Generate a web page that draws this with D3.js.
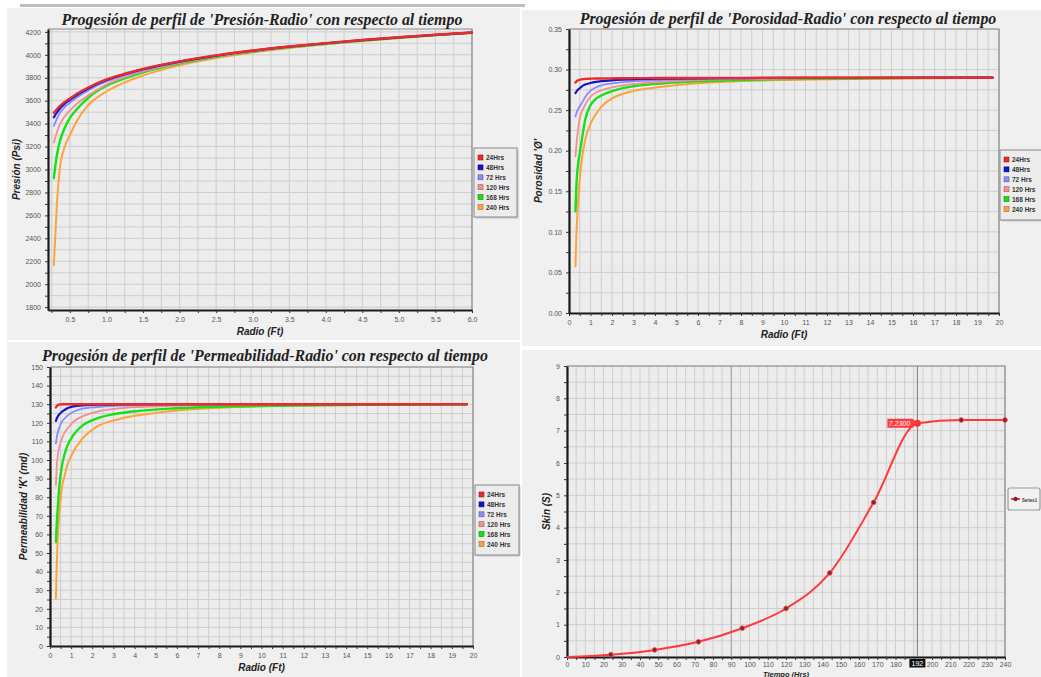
<!DOCTYPE html>
<html>
<head>
<meta charset="utf-8">
<script src="https://cdn.jsdelivr.net/npm/d3@7"></script>
<style>
  body { margin: 0; background: #ffffff; }
  svg { display: block; }
  .tick text { font-family: "Liberation Sans", Arial, sans-serif; font-size: 7px; fill: #555; }
  .ax-title { font-family: "Liberation Sans", Arial, sans-serif; font-size: 10px; font-weight: bold; font-style: italic; fill: #222; }
  .ch-title { font-family: "Liberation Serif", "Times New Roman", serif; font-size: 15.9px; font-weight: bold; font-style: italic; fill: #222; }
  .lg-text { font-family: "Liberation Sans", Arial, sans-serif; font-size: 6.5px; font-weight: bold; fill: #333; }
</style>
</head>
<body>
<svg id="chart" width="1041" height="677"></svg>
<script>
// ---- data ----
var seriesNames = ["24Hrs", "48Hrs", "72 Hrs", "120 Hrs", "168 Hrs", "240 Hrs"];

var pressRadius = [0.28, 0.32, 0.36, 0.42, 0.5, 0.6, 0.75, 1.0, 1.25, 1.5, 2.0, 2.5, 3.0, 3.5, 4.0, 4.5, 5.0, 5.5, 6.0];
var press24  = [3495, 3525, 3552, 3585, 3620, 3662, 3715, 3785, 3835, 3877, 3943, 3995, 4037, 4072, 4102, 4129, 4153, 4175, 4195];
var press48  = [3455, 3495, 3530, 3568, 3607, 3652, 3707, 3780, 3831, 3874, 3941, 3993, 4036, 4071, 4101, 4128, 4152, 4174, 4194];
var press72  = [3380, 3440, 3490, 3538, 3582, 3630, 3690, 3767, 3822, 3867, 3937, 3990, 4034, 4070, 4100, 4127, 4151, 4174, 4194];
var press120 = [3235, 3320, 3390, 3455, 3515, 3575, 3645, 3740, 3805, 3855, 3930, 3986, 4031, 4068, 4099, 4126, 4150, 4173, 4193];
var press168 = [2925, 3120, 3240, 3350, 3450, 3530, 3625, 3730, 3795, 3848, 3925, 3983, 4028, 4065, 4096, 4124, 4149, 4172, 4192];
var press240 = [2167, 2680, 3000, 3180, 3300, 3430, 3560, 3680, 3760, 3820, 3908, 3972, 4021, 4060, 4092, 4121, 4147, 4171, 4191];

var poroRadius = [0.3, 0.35, 0.4, 0.5, 0.6, 0.75, 1.0, 1.25, 1.5, 2.0, 2.5, 3.0, 3.5, 4.5, 6.0, 8.0, 10.0, 13.0, 16.0, 19.7];
var poro24  = [0.284, 0.2855, 0.2865, 0.2875, 0.288, 0.2885, 0.2888, 0.289, 0.289, 0.2892, 0.2893, 0.2894, 0.2895, 0.2896, 0.2897, 0.2898, 0.2899, 0.29, 0.29, 0.29];
var poro48  = [0.2711, 0.273, 0.2748, 0.277, 0.2792, 0.2815, 0.2835, 0.2848, 0.2857, 0.2868, 0.2875, 0.288, 0.2884, 0.2888, 0.2892, 0.2895, 0.2897, 0.2899, 0.29, 0.29];
var poro72  = [0.2423, 0.2465, 0.25, 0.2545, 0.259, 0.266, 0.274, 0.278, 0.2805, 0.283, 0.2845, 0.2855, 0.2862, 0.2872, 0.288, 0.2888, 0.2893, 0.2897, 0.2899, 0.29];
var poro120 = [0.193, 0.209, 0.2215, 0.24, 0.248, 0.2565, 0.2665, 0.2715, 0.2745, 0.278, 0.2805, 0.282, 0.2833, 0.285, 0.287, 0.2883, 0.289, 0.2895, 0.2898, 0.29];
var poro168 = [0.1252, 0.16, 0.178, 0.197, 0.214, 0.238, 0.256, 0.264, 0.268, 0.2735, 0.2772, 0.2795, 0.2812, 0.2834, 0.2855, 0.2872, 0.2882, 0.289, 0.2895, 0.29];
var poro240 = [0.0575, 0.10, 0.127, 0.165, 0.19, 0.213, 0.233, 0.245, 0.254, 0.2645, 0.270, 0.2735, 0.276, 0.2795, 0.2832, 0.2858, 0.2872, 0.2885, 0.2892, 0.2898];

var permRadius = [0.28, 0.32, 0.36, 0.44, 0.55, 0.7, 0.8, 1.1, 1.5, 2.2, 3.2, 4.2, 5.8, 7.5, 9.0, 12.0, 15.0, 19.7];
var perm24  = [128.2, 129.0, 129.5, 129.8, 130, 130, 130, 130, 130, 130, 130, 130, 130, 130, 130, 130, 130, 130];
var perm48  = [121.0, 122.3, 123.3, 124.6, 125.8, 127.0, 127.7, 128.8, 129.4, 129.7, 129.9, 130, 130, 130, 130, 130, 130, 130];
var perm72  = [108.9, 112.0, 114.5, 117.5, 120.3, 122.5, 123.6, 125.9, 127.5, 128.5, 129.2, 129.5, 129.8, 129.9, 130, 130, 130, 130];
var perm120 = [86.5, 96.5, 101.5, 107, 111, 115, 116.5, 120.5, 123.3, 125.9, 127.7, 128.5, 129.1, 129.5, 129.7, 129.9, 130, 130];
var perm168 = [56.0, 66, 73, 85.6, 96, 103.5, 107, 113.3, 118.2, 122.3, 125, 126.4, 127.7, 128.5, 128.9, 129.4, 129.7, 130];
var perm240 = [25.6, 44, 57, 71, 84, 92, 96.5, 104.4, 111, 117.8, 121.8, 124.1, 126.4, 127.8, 128.5, 129.2, 129.6, 130];

var skinTime  = [0, 24, 48, 72, 96, 120, 144, 168, 192, 216, 240];
var skinValue = [0, 0.07, 0.22, 0.47, 0.89, 1.5, 2.6, 4.78, 7.23, 7.33, 7.33];
var skinMarkTime = 192;
var skinMarkLabel = "7.2300";

// ---- styles ----
var SERIES_COLORS = ["#ec2a2a", "#1414c8", "#8a8aff", "#f29090", "#16e016", "#ffa23e"];
var SERIES_WIDTHS = [2.4, 2.2, 1.8, 1.8, 2.4, 2];
var PLOT_BG = "#ececec";
var GRID = "#cdcdcd";

var svg = d3.select("#chart");

// panel backgrounds (screenshot look)
[[7, 8, 513, 332], [522, 10, 519, 336], [7, 342, 513, 335], [522, 350, 519, 327]].forEach(function (r) {
    svg.append("rect").attr("x", r[0]).attr("y", r[1]).attr("width", r[2]).attr("height", r[3]).attr("fill", "#f0f0f0");
});
svg.append("rect").attr("x", 20).attr("y", 4).attr("width", 505).attr("height", 3).attr("fill", "#bdbdbd");

function drawFrame(g, x, y, xGrid, yGrid, xLabelFn, yLabelFn) {
    var x0 = x.range()[0], x1 = x.range()[1];
    var y0 = y.range()[0], y1 = y.range()[1];
    g.append("rect").attr("x", x0).attr("y", y1).attr("width", x1 - x0).attr("height", y0 - y1)
        .attr("fill", PLOT_BG);
    g.append("g").selectAll("line").data(xGrid).enter().append("line")
        .attr("x1", function (d) { return x(d); }).attr("x2", function (d) { return x(d); })
        .attr("y1", y1).attr("y2", y0).attr("stroke", GRID).attr("stroke-width", 1);
    g.append("g").selectAll("line").data(yGrid).enter().append("line")
        .attr("y1", function (d) { return y(d); }).attr("y2", function (d) { return y(d); })
        .attr("x1", x0).attr("x2", x1).attr("stroke", GRID).attr("stroke-width", 1);
    // top & right border
    g.append("path").attr("d", "M" + x0 + "," + y1 + "H" + x1 + "V" + y0)
        .attr("fill", "none").attr("stroke", "#8a8a8a").attr("stroke-width", 1.2);

    var xAxis = g.append("g").attr("transform", "translate(0," + y0 + ")")
        .call(d3.axisBottom(x).tickValues(xGrid).tickSize(3).tickSizeOuter(0).tickFormat(xLabelFn));
    var yAxis = g.append("g").attr("transform", "translate(" + x0 + ",0)")
        .call(d3.axisLeft(y).tickValues(yGrid).tickSize(3).tickSizeOuter(0).tickFormat(yLabelFn));
    [xAxis, yAxis].forEach(function (a) {
        a.select(".domain").attr("stroke", "#1a1a1a").attr("stroke-width", 2.2);
        a.selectAll(".tick line").attr("stroke", "#333");
    });
    xAxis.selectAll(".tick text").attr("dy", "0.9em");
    yAxis.selectAll(".tick text").attr("dx", "-1px");
    return { xAxis: xAxis, yAxis: yAxis };
}

function isMultiple(v, step) {
    return Math.abs(v / step - Math.round(v / step)) < 1e-6;
}

function drawLegend(g, lx, ly, w, h) {
    g.append("rect").attr("x", lx + 1.5).attr("y", ly + 1.5).attr("width", w).attr("height", h).attr("fill", "#c8c8c8");
    g.append("rect").attr("x", lx).attr("y", ly).attr("width", w).attr("height", h)
        .attr("fill", "#ececec").attr("stroke", "#9a9a9a").attr("stroke-width", 1.2);
    seriesNames.forEach(function (name, i) {
        var yy = ly + 10 + i * 9.9;
        g.append("rect").attr("x", lx + 4).attr("y", yy - 3).attr("width", 5).attr("height", 5)
            .attr("fill", SERIES_COLORS[i]).attr("stroke", d3.color(SERIES_COLORS[i]).darker(1.2)).attr("stroke-width", 0.6);
        g.append("text").attr("class", "lg-text").attr("x", lx + 12).attr("y", yy + 2).text(name);
    });
}

function drawProfile(cfg) {
    var g = svg.append("g");
    var x = d3.scaleLinear().domain(cfg.xDomain).range([cfg.left, cfg.right]);
    var y = d3.scaleLinear().domain(cfg.yDomain).range([cfg.bottom, cfg.top]);
    drawFrame(g, x, y, cfg.xGrid, cfg.yGrid,
        function (d) { return isMultiple(d, cfg.xLabelStep) ? cfg.xFmt(d) : ""; },
        function (d) { return isMultiple(d, cfg.yLabelStep) ? cfg.yFmt(d) : ""; });

    var line = d3.line().curve(d3.curveMonotoneX)
        .x(function (d) { return x(d[0]); })
        .y(function (d) { return y(d[1]); });
    // draw the latest time first so 24 Hrs sits on top
    for (var i = cfg.series.length - 1; i >= 0; i--) {
        var pts = cfg.radius.map(function (r, k) { return [r, cfg.series[i][k]]; });
        g.append("path").datum(pts).attr("d", line).attr("fill", "none")
            .attr("stroke", SERIES_COLORS[i]).attr("stroke-width", SERIES_WIDTHS[i])
            .attr("stroke-linejoin", "round").attr("stroke-linecap", "round");
    }

    g.append("text").attr("class", "ch-title").attr("x", cfg.titleX).attr("y", cfg.titleY)
        .attr("text-anchor", "middle").text(cfg.title);
    g.append("text").attr("class", "ax-title").attr("x", (cfg.left + cfg.right) / 2).attr("y", cfg.bottom + 25)
        .attr("text-anchor", "middle").text("Radio (Ft)");
    g.append("text").attr("class", "ax-title")
        .attr("transform", "translate(" + cfg.yTitleX + "," + (cfg.top + cfg.bottom) / 2 + ") rotate(-90)")
        .attr("text-anchor", "middle").text(cfg.yTitle);
    drawLegend(g, cfg.legend[0], cfg.legend[1], cfg.legend[2], cfg.legend[3]);
}

drawProfile({
    left: 48, right: 472, top: 29, bottom: 310,
    xDomain: [0.2, 6.0], yDomain: [1775, 4225],
    xGrid: d3.range(0.25, 6.001, 0.25), yGrid: d3.range(1800, 4201, 100),
    xLabelStep: 0.5, yLabelStep: 200,
    xFmt: d3.format(".1f"), yFmt: d3.format("d"),
    radius: pressRadius,
    series: [press24, press48, press72, press120, press168, press240],
    title: "Progesión de perfil de 'Presión-Radio' con respecto al tiempo",
    titleX: 262, titleY: 25,
    yTitle: "Presión (Psi)", yTitleX: 20,
    legend: [474, 148, 43, 69]
});

drawProfile({
    left: 569, right: 999, top: 29, bottom: 313,
    xDomain: [0, 20], yDomain: [0, 0.35],
    xGrid: d3.range(0, 20.001, 0.5), yGrid: d3.range(0, 0.3501, 0.025),
    xLabelStep: 1, yLabelStep: 0.05,
    xFmt: d3.format("d"), yFmt: d3.format(".2f"),
    radius: poroRadius,
    series: [poro24, poro48, poro72, poro120, poro168, poro240],
    title: "Progesión de perfil de 'Porosidad-Radio' con respecto al tiempo",
    titleX: 788, titleY: 24,
    yTitle: "Porosidad 'Ø'", yTitleX: 542,
    legend: [1000, 150, 45, 70]
});

drawProfile({
    left: 50, right: 473, top: 367, bottom: 646,
    xDomain: [0, 20], yDomain: [0, 150],
    xGrid: d3.range(0, 20.001, 0.5), yGrid: d3.range(0, 150.001, 5),
    xLabelStep: 1, yLabelStep: 10,
    xFmt: d3.format("d"), yFmt: d3.format("d"),
    radius: permRadius,
    series: [perm24, perm48, perm72, perm120, perm168, perm240],
    title: "Progesión de perfil de 'Permeabilidad-Radio' con respecto al tiempo",
    titleX: 265, titleY: 361,
    yTitle: "Permeabilidad 'K' (md)", yTitleX: 27,
    legend: [475, 485, 44, 70]
});

// ---- skin vs time ----
(function () {
    var g = svg.append("g");
    var x = d3.scaleLinear().domain([0, 240]).range([567, 1005]);
    var y = d3.scaleLinear().domain([0, 9]).range([657, 366]);
    var axes = drawFrame(g, x, y, d3.range(0, 240.001, 5), d3.range(0, 9.001, 0.5),
        function (d) { return isMultiple(d, 10) && d !== 190 ? d3.format("d")(d) : ""; },
        function (d) { return isMultiple(d, 1) ? d3.format("d")(d) : ""; });
    axes.xAxis.selectAll(".tick text").attr("dy", "0.55em");

    // darker reference line and crosshair
    g.append("line").attr("x1", x(90)).attr("x2", x(90)).attr("y1", y(9)).attr("y2", y(0))
        .attr("stroke", "#a0a0a0").attr("stroke-width", 1);
    g.append("line").attr("x1", x(skinMarkTime)).attr("x2", x(skinMarkTime)).attr("y1", y(9)).attr("y2", y(0))
        .attr("stroke", "#7a7a7a").attr("stroke-width", 1);

    var pts = skinTime.map(function (t, i) { return [t, skinValue[i]]; });
    var line = d3.line().curve(d3.curveMonotoneX)
        .x(function (d) { return x(d[0]); })
        .y(function (d) { return y(d[1]); });
    g.append("path").datum(pts).attr("d", line).attr("fill", "none")
        .attr("stroke", "#ff3838").attr("stroke-width", 2).attr("stroke-linejoin", "round");
    g.append("g").selectAll("circle").data(pts.slice(1)).enter().append("circle")
        .attr("cx", function (d) { return x(d[0]); }).attr("cy", function (d) { return y(d[1]); })
        .attr("r", 2.4).attr("fill", "#7a2a2a").attr("stroke", "#ff5050").attr("stroke-width", 0.8);

    // value flag
    var mk = skinValue[skinTime.indexOf(skinMarkTime)];
    var px = x(skinMarkTime), py = y(mk);
    g.append("circle").attr("cx", px).attr("cy", py).attr("r", 3.5).attr("fill", "#ff3030");
    g.append("path").attr("d", "M" + (px - 30) + "," + (py - 4.5) + "H" + (px - 5) + "L" + px + "," + py +
        "L" + (px - 5) + "," + (py + 4.5) + "H" + (px - 30) + "Z").attr("fill", "#ff3a3a");
    g.append("text").attr("x", px - 18).attr("y", py + 2.5).attr("text-anchor", "middle")
        .style("font-family", "Liberation Sans, Arial, sans-serif").style("font-size", "7px")
        .style("font-style", "italic").attr("fill", "#ffffff").text(skinMarkLabel);

    // highlighted x value
    g.append("rect").attr("x", px - 8).attr("y", 659).attr("width", 16).attr("height", 8.5).attr("fill", "#111");
    g.append("text").attr("x", px).attr("y", 665.5).attr("text-anchor", "middle")
        .style("font-family", "Liberation Sans, Arial, sans-serif").style("font-size", "7px")
        .attr("fill", "#ffffff").text(skinMarkTime);

    g.append("text").attr("class", "ax-title")
        .attr("transform", "translate(550," + (366 + 657) / 2 + ") rotate(-90)")
        .attr("text-anchor", "middle").text("Skin (S)");
    g.append("text").attr("class", "ax-title").attr("x", 786).attr("y", 676.5)
        .style("font-size", "7.5px").attr("text-anchor", "middle").text("Tiempo (Hrs)");

    // legend at the picture edge
    g.append("rect").attr("x", 1008).attr("y", 488).attr("width", 32).attr("height", 22).attr("rx", 2)
        .attr("fill", "#f2f2f2").attr("stroke", "#9a9a9a").attr("stroke-width", 1.2);
    g.append("line").attr("x1", 1011).attr("x2", 1020).attr("y1", 499).attr("y2", 499)
        .attr("stroke", "#ff3838").attr("stroke-width", 2);
    g.append("circle").attr("cx", 1015.5).attr("cy", 499).attr("r", 2.2).attr("fill", "#7a2a2a");
    g.append("text").attr("class", "lg-text").attr("x", 1022).attr("y", 501.5)
        .attr("textLength", 15).attr("lengthAdjust", "spacingAndGlyphs").style("font-size", "5.5px").text("Series1");
})();
</script>
</body>
</html>
